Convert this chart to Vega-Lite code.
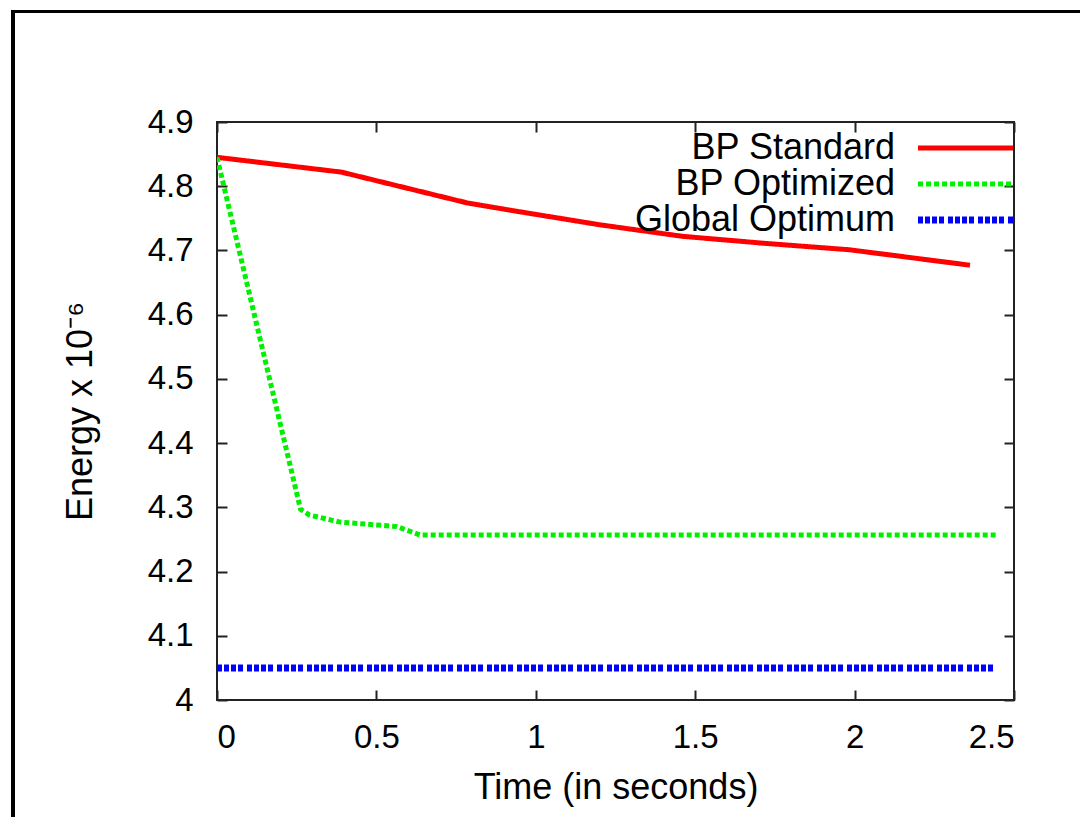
{
  "$schema": "https://vega.github.io/schema/vega-lite/v6.json",
  "width": 797,
  "height": 578,
  "autosize": {"type": "none"},
  "padding": {"left": 217, "top": 122, "right": 66, "bottom": 117},
  "background": "white",
  "config": {
    "font": "Liberation Sans",
    "view": {"stroke": "#222", "strokeWidth": 2},
    "axis": {"labelColor": "black", "titleColor": "black", "titleFontWeight": "normal", "grid": false, "domain": false, "tickColor": "#222", "tickWidth": 2, "tickSize": -10}
  },
  "data": {
    "values": [
      {"series": "BP Standard", "t": 0, "e": 4.845},
      {"series": "BP Standard", "t": 0.39, "e": 4.822},
      {"series": "BP Standard", "t": 0.785, "e": 4.774},
      {"series": "BP Standard", "t": 0.94, "e": 4.761},
      {"series": "BP Standard", "t": 1.2, "e": 4.74},
      {"series": "BP Standard", "t": 1.46, "e": 4.722},
      {"series": "BP Standard", "t": 1.72, "e": 4.711},
      {"series": "BP Standard", "t": 1.985, "e": 4.701},
      {"series": "BP Standard", "t": 2.362, "e": 4.677},
      {"series": "BP Optimized", "t": 0, "e": 4.845},
      {"series": "BP Optimized", "t": 0.262, "e": 4.297},
      {"series": "BP Optimized", "t": 0.29, "e": 4.288},
      {"series": "BP Optimized", "t": 0.386, "e": 4.277},
      {"series": "BP Optimized", "t": 0.564, "e": 4.27},
      {"series": "BP Optimized", "t": 0.637, "e": 4.257},
      {"series": "BP Optimized", "t": 2.443, "e": 4.257},
      {"series": "Global Optimum", "t": 0, "e": 4.05},
      {"series": "Global Optimum", "t": 2.443, "e": 4.05}
    ]
  },
  "resolve": {"axis": {"x": "independent", "y": "independent"}},
  "layer": [
    {
      "mark": {"type": "line", "clip": true},
      "encoding": {
        "x": {
          "field": "t", "type": "quantitative",
          "scale": {"domain": [0, 2.5], "nice": false, "zero": false},
          "axis": {"orient": "bottom", "values": [0, 0.5, 1, 1.5, 2, 2.5], "format": "~g", "labelFontSize": 33, "labelPadding": 31, "title": "Time (in seconds)", "titleFontSize": 36, "titlePadding": 16}
        },
        "y": {
          "field": "e", "type": "quantitative",
          "scale": {"domain": [4, 4.9], "nice": false, "zero": false},
          "axis": {"orient": "left", "values": [4, 4.1, 4.2, 4.3, 4.4, 4.5, 4.6, 4.7, 4.8, 4.9], "format": ".1~f", "labelFontSize": 33, "labelPadding": 34, "title": "Energy x 10⁻⁶", "titleFontSize": 36, "titlePadding": 48}
        },
        "color": {
          "field": "series", "type": "nominal",
          "scale": {"domain": ["BP Standard", "BP Optimized", "Global Optimum"], "range": ["#ff0000", "#00f000", "#0000ff"]},
          "legend": {"title": null, "orient": "none", "legendX": 730.5, "legendY": 8, "padding": 0, "symbolType": "M-5,0H5", "symbolSize": 361, "rowPadding": 0, "labelAlign": "right", "labelOffset": -88.5, "labelFontSize": 36, "labelLimit": 500, "labelColor": "black"}
        },
        "strokeDash": {
          "field": "series", "type": "nominal",
          "scale": {"domain": ["BP Standard", "BP Optimized", "Global Optimum"], "range": [[1, 0], [5, 3], [5, 2, 5, 2, 5, 2, 5, 4]]}
        },
        "strokeWidth": {
          "field": "series", "type": "nominal",
          "scale": {"type": "ordinal", "domain": ["BP Standard", "BP Optimized", "Global Optimum"], "range": [5, 5, 7]}
        }
      }
    },
    {
      "mark": {"type": "rect", "filled": false, "stroke": "black", "strokeWidth": 3, "clip": false},
      "encoding": {
        "x": {"datum": -0.64, "type": "quantitative", "axis": {"orient": "top", "values": [0, 0.5, 1, 1.5, 2, 2.5], "labels": false, "title": null}},
        "x2": {"datum": 3.2},
        "y": {"datum": 5.072, "type": "quantitative", "axis": {"orient": "right", "values": [4, 4.1, 4.2, 4.3, 4.4, 4.5, 4.6, 4.7, 4.8, 4.9], "labels": false, "title": null}},
        "y2": {"datum": 3.6}
      }
    }
  ]
}
